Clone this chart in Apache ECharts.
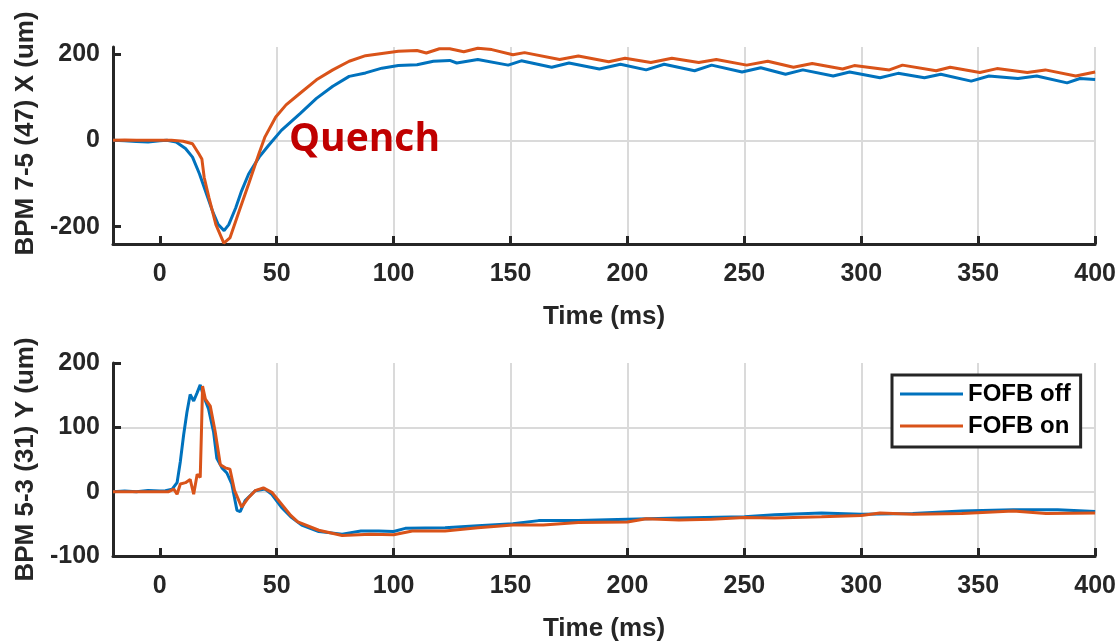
<!DOCTYPE html>
<html>
<head>
<meta charset="utf-8">
<script src="https://cdn.jsdelivr.net/npm/echarts@6/dist/echarts.min.js"></script>
<style>
html,body{margin:0;padding:0;background:#fff;}
#c{width:1119px;height:643px;}
</style>
</head>
<body>
<div id="c"></div>
<script>
// ---- Data ----
const seriesNames = ['FOFB off', 'FOFB on'];
const xTicks = [0, 50, 100, 150, 200, 250, 300, 350, 400];
const yTicksTop = [-200, 0, 200];
const yTicksBottom = [-100, 0, 100, 200];

// Top panel: BPM 7-5 (47) X (um)
const topOffT = [-20,-15,-10,-5,0,3,7,11,14,17,19.5,22.5,25,27.5,29.5,32.5,35,38,42.5,46.5,52,60,67,74,81,88,95,102,110,117,124,127,136,149,154.6,167.6,175,188,197,208,215.7,228.7,236,249,257,267.6,275,288,295,308,315.7,327,334,347,354.6,367,375,388,393.5,400];
const topOffV = [0,-1,-3,-4,-1,0,-4,-19,-39,-78,-117,-163,-195,-209,-195,-156,-117,-78,-39,-12,23,62,97,125,148,156,167,173,175,183,185,179,187,174,184,169,179,165,176,163,176,161,174,158,168,153,163,149,158,145,155,145,153,137,149,143,149,133,143,141];
const topOnT = [-20,-15,-10,0,5,10,14,16.7,18,19,21,24,27.4,30,34,38,42.4,45,49.6,54,60,67,74,81,88,95,102,110,114,119.6,124,130,136,142,151,156,171,179,192,199,210,219,230.5,238,251,260,271,279,292,297,312,317.6,332,338,350.7,358,371,378.7,391.7,400];
const topOnV = [0,1,0,0,0,-2,-8,-31,-43,-86,-132,-195,-238,-226,-163,-101,-31,8,54,82,109,140,163,183,196,201,206,208,202,212,212,205,213,210,198,203,187,195,182,190,180,190,180,187,174,183,169,178,165,173,163,174,161,169,157,166,157,163,149,158];

// Bottom panel: BPM 5-3 (31) Y (um)
const botOffT = [-20,-15,-10,-5,0,2.4,5.3,7.4,8.8,10.2,11.6,13,14.5,16,17.3,18.7,20.9,23,24.4,26.6,28.7,30.8,33,34.4,36.5,40.8,45,47.9,52,56,60.7,68,78,86,93.6,100,105,122,136,151,162,179,200,222,250,263,283,300,322,343,365,384,400];
const botOffV = [0,1,0,2,1,1.5,4,14,47,88,123,151,141,154,166,149,128,93,52,37,29,12,-29,-31,-14,1.5,4,-4,-24,-39,-52,-62,-66,-61,-61,-62,-57,-56,-53,-50,-45,-45,-43,-41,-39,-36,-33,-35,-34,-30,-28,-28,-31];
const botOnT = [-20,-10,0,3.8,6,7.4,8.8,11,13,14.5,16,17.3,17.8,18.3,19.5,21.6,23.7,25.9,28,30,32,35,38,40.8,44.3,47.9,52,56,59,68,78,90,100,108,122,136,151,164,179,200,208,222,236,250,263,283,300,308,322,343,365,379,400];
const botOnV = [0,0,0,0,4,-4,12,14,19,-4,27,22,90,164,144,133,93,42,37,35,1.5,-24,-9,1.5,6,-1,-19,-37,-47,-60,-68,-66,-67,-61,-61,-56,-52,-52,-48,-47,-42,-44,-43,-40,-41,-39,-37,-33,-35,-34,-30,-34,-33];

function pairs(t, v) { return t.map((x, i) => [x, v[i]]); }

const AX = '#262626';
const FONT = 'Liberation Sans, Arial, sans-serif';
const BLUE = '#0072BD';
const ORANGE = '#D95319';

function xAxisDef(gi) {
  return {
    type: 'value', gridIndex: gi, min: -20, max: 400,
    name: 'Time (ms)', nameLocation: 'middle', nameGap: 60,
    nameTextStyle: { fontFamily: FONT, fontWeight: 'bold', fontSize: 26, color: AX },
    axisLine: { show: true, onZero: false, lineStyle: { color: AX, width: 3 } },
    axisTick: { show: true, inside: true, length: 8, customValues: xTicks, lineStyle: { color: AX, width: 3 } },
    axisLabel: { customValues: xTicks, margin: 18, fontFamily: FONT, fontWeight: 'bold', fontSize: 25, color: AX },
    splitLine: { show: true, showMinLine: false, showMaxLine: true, lineStyle: { color: '#dadada', width: 2 } }
  };
}
function yAxisDef(gi, name, min, max, ticks, namePad) {
  return {
    type: 'value', gridIndex: gi, min: min, max: max,
    name: name, nameLocation: 'middle', nameGap: 70, nameRotate: 90,
    nameTextStyle: { fontFamily: FONT, fontWeight: 'bold', fontSize: 26, color: AX, padding: namePad },
    axisLine: { show: true, onZero: false, lineStyle: { color: AX, width: 3 } },
    axisTick: { show: true, inside: true, length: 8, customValues: ticks, lineStyle: { color: AX, width: 3 } },
    axisLabel: { customValues: ticks, margin: 13, fontFamily: FONT, fontWeight: 'bold', fontSize: 25, color: AX },
    splitLine: { show: true, showMinLine: false, showMaxLine: false, lineStyle: { color: '#dadada', width: 2 } }
  };
}
function lineSeries(name, xi, data, color) {
  return {
    name: name, type: 'line', xAxisIndex: xi, yAxisIndex: xi, data: data,
    symbol: 'none', smooth: false, clip: true, animation: false,
    lineStyle: { color: color, width: 3 }, itemStyle: { color: color }
  };
}

const chart = echarts.init(document.getElementById('c'), null, { renderer: 'canvas' });
chart.setOption({
  backgroundColor: '#ffffff',
  animation: false,
  grid: [
    { left: 113, top: 47, width: 984, height: 197 },
    { left: 113, top: 363, width: 984, height: 197 }
  ],
  xAxis: [xAxisDef(0), xAxisDef(1)],
  yAxis: [
    yAxisDef(0, 'BPM 7-5 (47) X (um)', -240, 216, yTicksTop, [0, 0, 0, 24]),
    yAxisDef(1, 'BPM 5-3 (31) Y (um)', -100, 200, yTicksBottom, [0, 0, 0, 0])
  ],
  legend: {
    data: seriesNames, orient: 'vertical', left: 892, top: 375,
    icon: 'rect', itemWidth: 63, itemHeight: 3,
    padding: [7, 10, 9, 8], itemGap: 8,
    borderColor: AX, borderWidth: 3, backgroundColor: '#fff',
    textStyle: { fontFamily: FONT, fontWeight: 'bold', fontSize: 24, color: '#000' }
  },
  series: [
    lineSeries(seriesNames[0], 0, pairs(topOffT, topOffV), BLUE),
    lineSeries(seriesNames[1], 0, pairs(topOnT, topOnV), ORANGE),
    lineSeries(seriesNames[0], 1, pairs(botOffT, botOffV), BLUE),
    lineSeries(seriesNames[1], 1, pairs(botOnT, botOnV), ORANGE)
  ],
  graphic: [
    { type: 'text', left: 289, top: 120, z: 100,
      style: { text: 'Quench', fill: '#C00000', fontFamily: 'Open Sans, sans-serif', fontWeight: 'bold', fontSize: 39 } }
  ]
});
</script>
</body>
</html>
